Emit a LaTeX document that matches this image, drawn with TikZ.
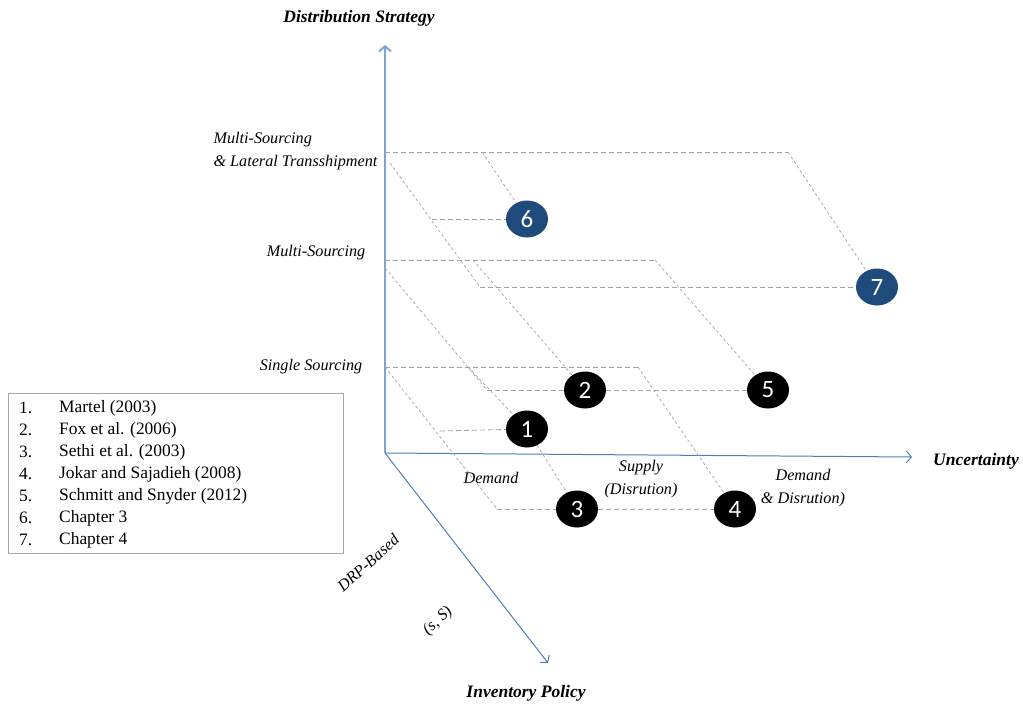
\documentclass[tikz,border=0pt]{standalone}
\usepackage{fontspec}
\setmainfont{Liberation Serif}
\newfontfamily\numfont{Carlito}
\usetikzlibrary{arrows.meta}
\usetikzlibrary{shapes.geometric}
\definecolor{axisblue}{HTML}{4A7EBB}
\definecolor{axislight}{HTML}{7FA3D6}
\definecolor{gridgray}{HTML}{A3A3A3}
\definecolor{chapblue}{HTML}{1F4A7C}

\begin{document}
\begin{tikzpicture}[x=1pt,y=-1pt,
  axis/.style={axisblue, line width=1pt, -{Straight Barb[length=5pt,width=12pt]}},
  hline/.style={gridgray, line width=0.8pt, dash pattern=on 5pt off 3pt},
  dline/.style={gridgray, line width=0.7pt, dash pattern=on 3pt off 2.5pt},
  paper/.style={ellipse, fill=black, text=white, minimum width=42pt, minimum height=37pt,
    inner sep=0pt, font=\numfont\fontsize{25}{25}\selectfont},
  chapter/.style={paper, fill=chapblue},
  title/.style={font=\bfseries\itshape\fontsize{17.5}{20}\selectfont},
  level/.style={font=\itshape\fontsize{16.2}{23}\selectfont},
  legtext/.style={anchor=west, inner sep=0pt, font=\fontsize{17.4}{20}\selectfont}]
\useasboundingbox (0,0) rectangle (1023,704);

% axes
\coordinate (O) at (385,453);
\coordinate (ytop) at (385,45);
\coordinate (xend) at (912,457);
\coordinate (zend) at (548,663);
\draw[axis, axislight, line width=2pt] (O) -- (ytop);
\draw[axis] (O) -- (xend);
\draw[axis] (O) -- (zend);

% papers
\node[paper] (p1) at (527,429) {1};
\node[paper] (p2) at (585,390) {2};
\node[paper] (p3) at (577,509) {3};
\node[paper] (p4) at (735,509) {4};
\node[paper] (p5) at (768,390) {5};
\node[chapter] (p6) at (527,219) {6};
\node[chapter] (p7) at (877,287) {7};

% multi-sourcing & lateral transshipment
\coordinate (a3) at (385,152);
\coordinate (b3) at (482,152);
\coordinate (c3) at (788,152);
\coordinate (d3) at (390,163);
\coordinate (e3) at (432,219);
\coordinate (f3) at (480,287);
\draw[hline] (a3) -- (c3);
\draw[dline] (b3) -- (p6);
\draw[dline] (c3) -- (p7);
\draw[dline] (d3) -- (f3);
\draw[hline] (e3) -- (p6);
\draw[hline] (f3) -- (p7);

% multi-sourcing
\coordinate (a2) at (385,260);
\coordinate (b2) at (473,260);
\coordinate (c2) at (655,260);
\coordinate (d2) at (385,268);
\coordinate (f2) at (487,390);
\draw[hline] (a2) -- (c2);
\draw[dline] (b2) -- (p2);
\draw[dline] (c2) -- (p5);
\draw[dline] (d2) -- (f2);
\draw[hline] (f2) -- (p2);
\draw[hline] (p2) -- (p5);

% single sourcing
\coordinate (a1) at (385,367);
\coordinate (b1) at (468,367);
\coordinate (c1) at (638,367);
\coordinate (e1) at (440,431);
\coordinate (f1) at (497,509);
\draw[hline] (a1) -- (c1);
\draw[dline] (b1) -- (p1);
\draw[dline] (p1) -- (p3);
\draw[dline] (c1) -- (p4);
\draw[dline] (a1) -- (f1);
\draw[hline] (e1) -- (p1);
\draw[hline] (f1) -- (p3);
\draw[hline] (p3) -- (p4);

% axis titles
\node[title] (ytitle) at (359,18) {Distribution Strategy};
\node[title] (xtitle) at (976,461) {Uncertainty};
\node[title] (ztitle) at (526,693) {Inventory Policy};

% categories
\node[level, align=left, anchor=west] (lvl3) at (210,151) {Multi-Sourcing\\\& Lateral Transshipment};
\node[level] (lvl2) at (316,253) {Multi-Sourcing};
\node[level] (lvl1) at (311,367) {Single Sourcing};
\node[level] (demand) at (491,478) {Demand};
\node[level, align=center] (supply) at (641,479) {Supply\\(Disrution)};
\node[level, align=center] (both) at (803,488) {Demand\\\& Disrution)};
\node[level, rotate=42] (drp) at (368,563) {DRP-Based};
\node[level, rotate=42] (sS) at (438,621) {(s, S)};

% legend
\draw[gray!70, line width=0.8pt] (8,393) rectangle (343,553);
\foreach \src [count=\i] in {Martel (2003), Fox et al. (2006), Sethi et al. (2003),
  Jokar and Sajadieh (2008), Schmitt and Snyder (2012), Chapter 3, Chapter 4} {
  \node[legtext] (num\i) at (19,386+22*\i) {\i.};
  \node[legtext] (src\i) at (59,386+22*\i) {\src};
}
\end{tikzpicture}
\end{document}
